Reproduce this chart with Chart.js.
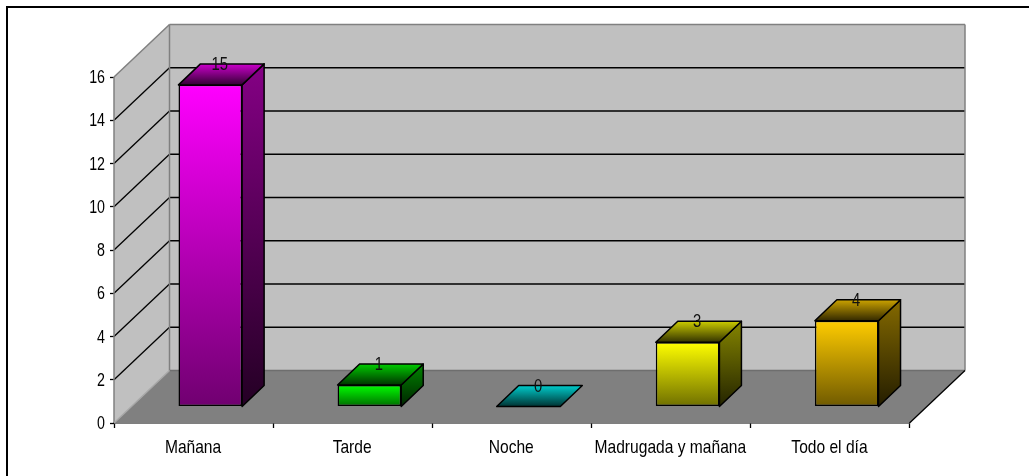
<!DOCTYPE html>
<html><head><meta charset="utf-8">
<style>html,body{margin:0;padding:0;background:#fff}canvas{display:block}</style>
<script src="https://cdn.jsdelivr.net/npm/chart.js@4"></script>
</head><body><canvas id="c" width="1029" height="476"></canvas>
<script>
const categories = ['Mañana','Tarde','Noche','Madrugada y mañana','Todo el día'];
const values = [15,1,0,3,4];
const barColors = ['#ff00ff','#00ff00','#00ffff','#ffff00','#ffcc00'];
const yMax = 16, yStep = 2;
const FONT = '"Liberation Sans",Arial,sans-serif';
const FONT_SIZE = 19;
const WALL_DX = 55.5, WALL_DY = 52.5;   // floor depth
const BAR_DX = 16.75, BAR_DY = 16.5;    // bar front set back from the axis
const BAR_DEPTH_X = 22, BAR_DEPTH_Y = 21;
const BAR_K = 0.9915;

function shade(hex, f){
  const n = parseInt(hex.slice(1),16);
  const c = [n>>16&255,n>>8&255,n&255].map(v=>Math.round(v*f));
  return `rgb(${c[0]},${c[1]},${c[2]})`;
}
function vgrad(ctx,y0,y1,a,b){
  const g = ctx.createLinearGradient(0,y0,0,y1);
  g.addColorStop(0,a); g.addColorStop(1,b); return g;
}
function poly(ctx,pts,fill,stroke,lw){
  ctx.beginPath();
  pts.forEach((p,i)=> i?ctx.lineTo(p[0],p[1]):ctx.moveTo(p[0],p[1]));
  ctx.closePath();
  if(fill){ctx.fillStyle=fill;ctx.fill();}
  if(stroke){ctx.strokeStyle=stroke;ctx.lineWidth=lw||1;ctx.lineJoin='round';ctx.stroke();}
}
function line(ctx,x0,y0,x1,y1,col,lw){
  ctx.beginPath();ctx.moveTo(x0,y0);ctx.lineTo(x1,y1);ctx.strokeStyle=col;ctx.lineWidth=lw;ctx.stroke();
}
// real text, horizontally condensed (the reference uses a narrow face)
function narrowText(ctx,str,x,y,sx,align,color){
  ctx.save();
  ctx.translate(x,y);ctx.scale(sx,1);
  ctx.font=FONT_SIZE+'px '+FONT;
  ctx.fillStyle=color;ctx.textAlign=align;ctx.textBaseline='middle';
  ctx.fillText(str,0,0);
  ctx.restore();
}
function barGeom(chart,el){
  const b = chart.chartArea.bottom;
  const yb = b - BAR_DY;
  const yt = yb - (b-el.y)*BAR_K;
  const xl = el.x - el.width/2 + BAR_DX, xr = el.x + el.width/2 + BAR_DX;
  return {xl,xr,yt,yb};
}

const scene = {
  id:'scene',
  beforeDraw(chart){
    const c = chart.ctx;
    c.save();
    c.fillStyle='#fff';c.fillRect(0,0,chart.width,chart.height);
    c.restore();
  },
  beforeDatasetsDraw(chart){
    const c = chart.ctx, a = chart.chartArea, y = chart.scales.y;
    const L=a.left,R=a.right,T=a.top,B=a.bottom;
    c.save();
    poly(c,[[L+WALL_DX,T-WALL_DY],[R+WALL_DX,T-WALL_DY],[R+WALL_DX,B-WALL_DY],[L+WALL_DX,B-WALL_DY]],'#c0c0c0');
    poly(c,[[L,T],[L+WALL_DX,T-WALL_DY],[L+WALL_DX,B-WALL_DY],[L,B]],'#c0c0c0');
    poly(c,[[L,B],[L+WALL_DX,B-WALL_DY],[R+WALL_DX,B-WALL_DY],[R,B]],'#808080');
    for(let v=yStep;v<yMax;v+=yStep){
      const p=y.getPixelForValue(v);
      line(c,L,p,L+WALL_DX,p-WALL_DY,'#000',1.3);
      line(c,L+WALL_DX,p-WALL_DY,R+WALL_DX,p-WALL_DY,'#000',1.3);
    }
    line(c,L,T,L+WALL_DX,T-WALL_DY,'#808080',1.5);
    line(c,L+WALL_DX,T-WALL_DY,R+WALL_DX,T-WALL_DY,'#808080',1.5);
    line(c,L,T,L,B,'#808080',1.5);
    line(c,L+WALL_DX,T-WALL_DY,L+WALL_DX,B-WALL_DY,'#808080',1.5);
    line(c,R+WALL_DX,T-WALL_DY,R+WALL_DX,B-WALL_DY,'#808080',1.5);
    line(c,L+WALL_DX,B-WALL_DY,R+WALL_DX,B-WALL_DY,'#6e6e6e',1.5);
    line(c,L,B,L+WALL_DX,B-WALL_DY,'#a8a8a8',1.5);
    line(c,R,B,R+WALL_DX,B-WALL_DY,'#000',1.3);
    c.restore();
  },
  beforeDatasetDraw(chart,args){
    const c = chart.ctx, meta = args.meta, b = chart.chartArea.bottom;
    c.save();
    meta.data.forEach((el,i)=>{
      const g = barGeom(chart,el), col = barColors[i];
      const dx=BAR_DEPTH_X, dy=BAR_DEPTH_Y;
      if(g.yb-g.yt>0.5){
        poly(c,[[g.xr,g.yt],[g.xr+dx,g.yt-dy],[g.xr+dx,g.yb-dy],[g.xr,g.yb]],
          vgrad(c,g.yt-dy,g.yb,shade(col,0.52),shade(col,0.14)),'#000',1.5);
      }
      poly(c,[[g.xl,g.yt],[g.xr,g.yt],[g.xr+dx,g.yt-dy],[g.xl+dx,g.yt-dy]],
        vgrad(c,g.yt-dy,g.yt,shade(col,0.8),shade(col,0.2)),'#000',1.5);
      el.options.backgroundColor = vgrad(c,el.y,el.base,col,shade(col,0.44));
    });
    // front faces are the chart's own bars, set back onto the floor
    c.translate(BAR_DX,-BAR_DY);
    c.translate(0,b);c.scale(1,BAR_K);c.translate(0,-b);
  },
  afterDatasetDraw(chart,args){
    const c = chart.ctx;
    c.restore();
    args.meta.data.forEach((el,i)=>{
      const g = barGeom(chart,el);
      narrowText(c,String(values[i]),(g.xl+g.xr)/2+BAR_DEPTH_X/2-1.5,g.yt-BAR_DEPTH_Y+1,0.78,'center','#111');
    });
  },
  afterDraw(chart){
    const c = chart.ctx, sx = chart.scales.x, sy = chart.scales.y;
    sy.ticks.forEach((t,i)=>{
      narrowText(c,String(t.value),105,sy.getPixelForTick(i)+1,0.75,'right','#000');
    });
    sx.ticks.forEach((t,i)=>{
      narrowText(c,categories[t.value],sx.getPixelForTick(i)-0.5,447.5,0.82,'center','#000');
    });
    c.save();
    c.strokeStyle='#000';c.lineWidth=2;
    c.beginPath();c.moveTo(chart.width,7);c.lineTo(7,7);c.lineTo(7,chart.height);c.stroke();
    c.restore();
  }
};

new Chart(document.getElementById('c'),{
  type:'bar',
  data:{labels:categories,datasets:[{
    data:values,clip:false,
    barPercentage:0.4,categoryPercentage:1,
    borderColor:'#000',borderWidth:1.5,borderSkipped:false,
    backgroundColor(ctx){ return barColors[ctx.dataIndex]; }
  }]},
  options:{
    responsive:false,animation:false,
    layout:{padding:{left:40,right:119.5,top:77,bottom:13}},
    plugins:{legend:{display:false},tooltip:{enabled:false}},
    scales:{
      x:{afterFit(s){s.height=40;},
        grid:{drawOnChartArea:false,offset:true,tickLength:5,color:'#000',tickWidth:1.3},
        border:{display:true,color:'#000',width:1.5},
        ticks:{color:'rgba(0,0,0,0)',font:{family:FONT,size:15},padding:7,maxRotation:0,autoSkip:false}},
      y:{min:0,max:yMax,afterFit(s){s.width=74;},
        grid:{drawOnChartArea:false,tickLength:4,color:'#000',tickWidth:1.3},
        border:{display:false},
        ticks:{stepSize:yStep,color:'rgba(0,0,0,0)',font:{family:FONT,size:15},padding:5}}
    }
  },
  plugins:[scene]
});
</script></body></html>
